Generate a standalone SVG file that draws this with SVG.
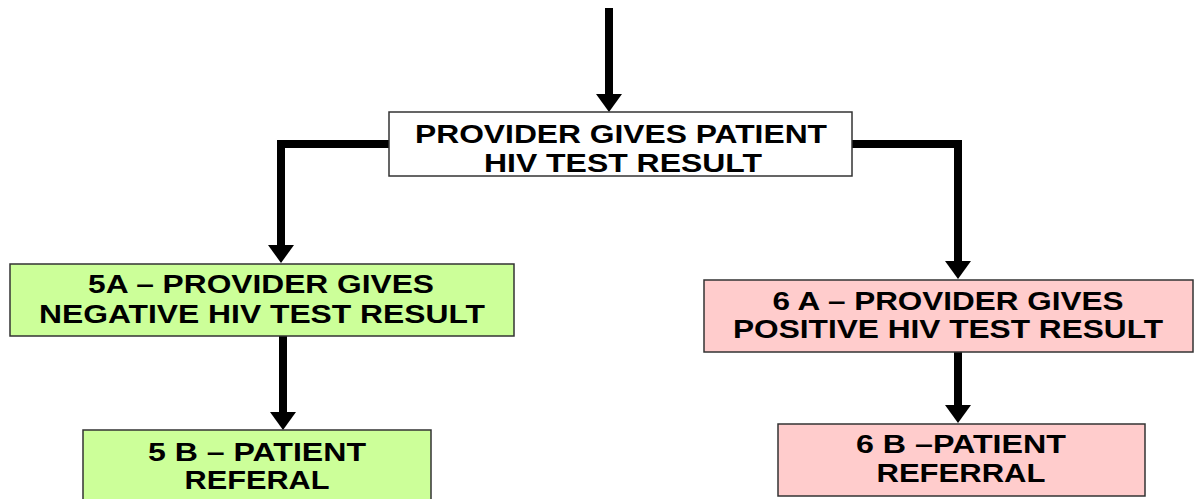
<svg xmlns="http://www.w3.org/2000/svg" width="1194" height="499" viewBox="0 0 1194 499">
  <defs>
    <marker id="ah" markerUnits="userSpaceOnUse" markerWidth="18" markerHeight="26" refX="0" refY="13" orient="auto">
      <path d="M0,0 L18,13 L0,26 z" fill="#000"/>
    </marker>
  </defs>
  <style>
    .box { stroke: #333; stroke-width: 1.5; }
    .white { fill: #ffffff; }
    .green { fill: #ccff99; }
    .pink { fill: #ffcccc; }
    .t { font-family: "Liberation Sans", Arial, sans-serif; font-weight: bold; font-size: 25px; fill: #000; text-anchor: middle; }
    .c { fill: none; stroke: #000; stroke-width: 8; stroke-linejoin: miter; stroke-linecap: butt; }
  </style>
  <rect width="1194" height="499" fill="#ffffff"/>
  <g id="connectors">
    <path class="c" d="M609,8 V94" marker-end="url(#ah)"/>
    <path class="c" d="M389,144 H281 V245" marker-end="url(#ah)"/>
    <path class="c" d="M852,144 H958 V261" marker-end="url(#ah)"/>
    <path class="c" d="M283,336 V412" marker-end="url(#ah)"/>
    <path class="c" d="M958,352 V405" marker-end="url(#ah)"/>
  </g>
  <g id="node-top">
    <rect class="box white" x="389" y="112" width="463" height="64"/>
    <text class="t" x="621" y="143" textLength="412" lengthAdjust="spacingAndGlyphs">PROVIDER GIVES PATIENT</text>
    <text class="t" x="623" y="172" textLength="278" lengthAdjust="spacingAndGlyphs">HIV TEST RESULT</text>
  </g>
  <g id="node-5a">
    <rect class="box green" x="10" y="264" width="504" height="72"/>
    <text class="t" x="261" y="293" textLength="346" lengthAdjust="spacingAndGlyphs">5A – PROVIDER GIVES</text>
    <text class="t" x="262" y="323" textLength="446" lengthAdjust="spacingAndGlyphs">NEGATIVE HIV TEST RESULT</text>
  </g>
  <g id="node-6a">
    <rect class="box pink" x="704" y="280" width="489" height="72"/>
    <text class="t" x="948" y="310" textLength="351" lengthAdjust="spacingAndGlyphs">6 A – PROVIDER GIVES</text>
    <text class="t" x="948" y="338" textLength="430" lengthAdjust="spacingAndGlyphs">POSITIVE HIV TEST RESULT</text>
  </g>
  <g id="node-5b">
    <rect class="box green" x="83" y="430" width="348" height="75"/>
    <text class="t" x="257" y="461" textLength="218" lengthAdjust="spacingAndGlyphs">5 B – PATIENT</text>
    <text class="t" x="257" y="489" textLength="145" lengthAdjust="spacingAndGlyphs">REFERAL</text>
  </g>
  <g id="node-6b">
    <rect class="box pink" x="778" y="424" width="367" height="72"/>
    <text class="t" x="961" y="453" textLength="210" lengthAdjust="spacingAndGlyphs">6 B –PATIENT</text>
    <text class="t" x="961" y="482" textLength="169" lengthAdjust="spacingAndGlyphs">REFERRAL</text>
  </g>
</svg>
